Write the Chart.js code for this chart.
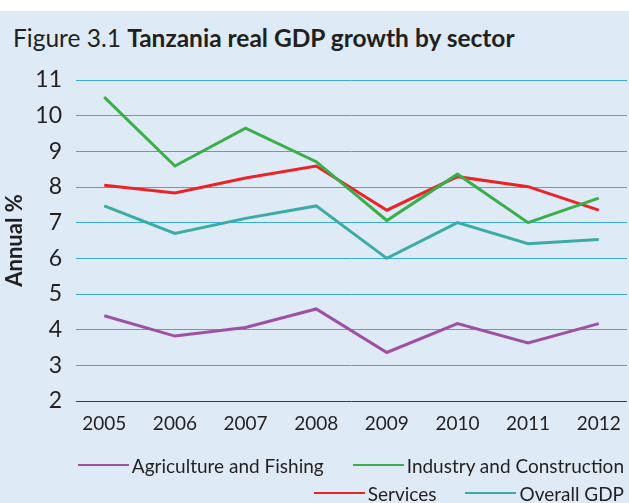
<!DOCTYPE html>
<html>
<head>
<meta charset="utf-8">
<script src="https://cdn.jsdelivr.net/npm/chart.js@4"></script>
<style>
  html, body { margin: 0; padding: 0; }
  body { width: 629px; height: 503px; background: #fff; position: relative; overflow: hidden; font-family: Lato, "Open Sans", sans-serif; color: #231f20; }
  #panel { position: absolute; left: 0; top: 11px; width: 629px; height: 492px; background: #deebf7; }
  #title { position: absolute; left: 13px; top: 24px; font-size: 24.5px; line-height: 28px; white-space: nowrap; }
  #title b { font-weight: 700; }
  #wrap { position: absolute; left: 0; top: 0; width: 629px; height: 503px; }
  #legend { position: absolute; right: 5px; top: 451px; width: 600px; font-size: 19px; }
  .row { display: flex; justify-content: flex-end; height: 28px; align-items: center; }
  .item { display: flex; align-items: center; margin-left: 29px; white-space: nowrap; }
  .swatch { width: 51px; height: 2px; margin-right: 3px; }
</style>
</head>
<body>
<div id="panel"></div>
<div id="title">Figure 3.1 <b>Tanzania real GDP growth by sector</b></div>
<div id="wrap"><canvas id="chart" width="629" height="503"></canvas></div>
<div id="legend"></div>
<script>
// --- data ---
const YEARS = [2005, 2006, 2007, 2008, 2009, 2010, 2011, 2012];
const AGRICULTURE = [4.39, 3.82, 4.06, 4.58, 3.36, 4.17, 3.63, 4.17];
const INDUSTRY = [10.52, 8.59, 9.65, 8.71, 7.06, 8.36, 7.00, 7.69];
const SERVICES = [8.05, 7.83, 8.25, 8.59, 7.35, 8.29, 8.01, 7.35];
const OVERALL = [7.47, 6.70, 7.12, 7.47, 6.00, 7.00, 6.41, 6.53];
const Y_MIN = 2, Y_MAX = 11;

const SERIES = [
    { label: 'Agriculture and Fishing', values: AGRICULTURE, color: '#9d50a6' },
    { label: 'Industry and Construction', values: INDUSTRY, color: '#3aae4a' },
    { label: 'Services', values: SERVICES, color: '#ec2227' },
    { label: 'Overall GDP', values: OVERALL, color: '#3aaca5' }
];

const FONT = 'Lato, "Open Sans", sans-serif';
const INK = '#231f20';

const chart = new Chart(document.getElementById('chart').getContext('2d'), {
    type: 'line',
    data: {
        datasets: SERIES.map(s => ({
            label: s.label,
            data: YEARS.map((yr, i) => ({ x: yr, y: s.values[i] })),
            borderColor: s.color,
            backgroundColor: s.color,
            borderWidth: 3,
            pointRadius: 0,
            tension: 0,
            fill: false
        }))
    },
    options: {
        responsive: false,
        animation: false,
        layout: { padding: { top: 80, right: 2, bottom: 62, left: 0 } },
        plugins: { legend: { display: false }, tooltip: { enabled: false } },
        scales: {
            x: {
                type: 'linear',
                min: 2004.6,
                max: 2012.4,
                afterFit: s => { s.height = 40; },
                grid: { display: false },
                border: { display: false },
                ticks: {
                    stepSize: 1,
                    includeBounds: false,
                    padding: 3,
                    color: INK,
                    font: { family: FONT, size: 19 },
                    callback: v => String(v)
                }
            },
            y: {
                min: Y_MIN,
                max: Y_MAX,
                afterFit: s => { s.width = 76; },
                grid: {
                    drawTicks: false,
                    lineWidth: 1,
                    color: ctx => ctx.tick && ctx.tick.value === Y_MIN ? '#3d3d3d' : '#39aae2'
                },
                border: { display: false },
                ticks: {
                    stepSize: 1,
                    padding: 14,
                    color: INK,
                    font: { family: FONT, size: 23 }
                },
                title: {
                    display: true,
                    text: 'Annual %',
                    color: INK,
                    font: { family: FONT, size: 22, weight: 'bold' },
                    padding: { top: 2, bottom: 0 }
                }
            }
        }
    }
});

// legend built from the datasets, two right-aligned rows
const legend = document.getElementById('legend');
[[0, 1], [2, 3]].forEach(idx => {
    const row = document.createElement('div');
    row.className = 'row';
    idx.forEach(i => {
        const ds = chart.data.datasets[i];
        const item = document.createElement('div');
        item.className = 'item';
        item.innerHTML = `<span class="swatch" style="background:${ds.borderColor}"></span><span>${ds.label}</span>`;
        row.appendChild(item);
    });
    legend.appendChild(row);
});
</script>
</body>
</html>
